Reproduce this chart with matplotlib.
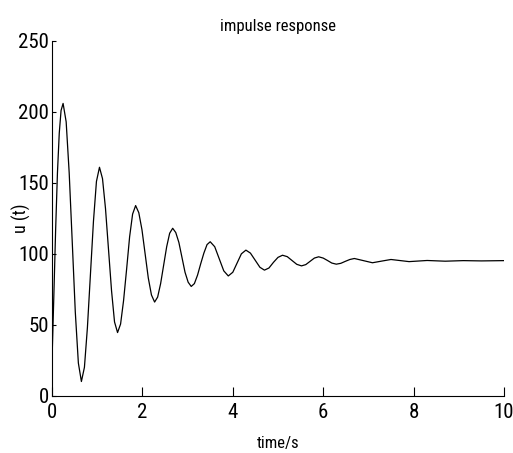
import matplotlib
matplotlib.use("Agg")
import matplotlib.pyplot as plt

# values (time in s, response u(t))
t = [0, 0.04, 0.08, 0.12, 0.16, 0.20, 0.245,
     0.313, 0.38, 0.448, 0.515, 0.583, 0.65,
     0.717, 0.783, 0.85, 0.917, 0.983, 1.05,
     1.117, 1.183, 1.25, 1.317, 1.383, 1.45,
     1.517, 1.583, 1.65, 1.717, 1.783, 1.85,
     1.92, 1.99, 2.06, 2.13, 2.20, 2.27,
     2.337, 2.403, 2.47, 2.537, 2.603, 2.67,
     2.738, 2.807, 2.875, 2.943, 3.012, 3.08,
     3.15, 3.22, 3.29, 3.36, 3.43, 3.50,
     3.60, 3.70, 3.80, 3.90,
     4.00, 4.095, 4.19, 4.29,
     4.39, 4.495, 4.60, 4.70,
     4.80, 4.90, 5.00, 5.10,
     5.205, 5.31, 5.415, 5.52,
     5.615, 5.71, 5.805, 5.90,
     6.00, 6.095, 6.19, 6.29,
     6.39, 6.49, 6.59, 6.69,
     6.89, 7.09, 7.30, 7.50,
     7.90, 8.30, 8.70, 9.10, 9.50, 10.0]
u = [25, 70, 117, 157, 185, 201, 206,
     193, 157, 108, 59, 23, 10,
     20, 48, 85.5, 123, 151, 161,
     153, 132, 103, 74, 52, 44.5,
     50.5, 67, 89, 112, 128, 134,
     129, 117, 100, 83, 71, 66,
     69.5, 79, 92, 105, 114.5, 118,
     115, 108, 97.5, 87, 80, 77,
     79, 85, 93, 100.5, 106.5, 108.5,
     105, 96.5, 88, 84.4,
     87, 93.5, 100, 102.6,
     100.5, 95.5, 90.5, 88.5,
     90, 94, 97.5, 99,
     98, 95.3, 92.6, 91.5,
     92.4, 94.7, 97, 97.9,
     97, 95.3, 93.5, 92.7,
     93.3, 94.7, 96, 96.7,
     95.2, 93.7, 94.9, 96,
     94.5, 95.3, 94.8, 95.2, 95, 95.2]

xticks = [0, 2, 4, 6, 8, 10]
yticks = [0, 50, 100, 150, 200, 250]

# narrow sans, like the squeezed Helvetica of the original
plt.rcParams['font.family'] = ['Roboto Condensed', 'Liberation Sans Narrow', 'Liberation Sans', 'DejaVu Sans']
plt.rcParams['font.stretch'] = 'condensed'

fig = plt.figure(figsize=(5.13, 4.53), dpi=100)
ax = fig.add_axes([0.1014, 0.1265, 0.881, 0.783])

ax.plot(t, u, color='black', linewidth=0.9)

ax.set_xlim(0, 10)
ax.set_ylim(0, 250)
ax.set_xticks(xticks)
ax.set_yticks(yticks)
ax.tick_params(axis='x', direction='in', length=6.5, width=0.8, labelsize=15, pad=5)
ax.tick_params(axis='y', direction='in', length=3.2, width=0.8, labelsize=15, pad=2)

for side in ['top', 'right']:
    ax.spines[side].set_visible(False)
for side in ['left', 'bottom']:
    ax.spines[side].set_linewidth(0.8)

ax.set_title("impulse response", fontsize=12, pad=7)
ax.set_xlabel("time/s", fontsize=12)
ax.set_ylabel("u (t)", fontsize=13)
ax.xaxis.set_label_coords(0.5, -0.115)
ax.yaxis.set_label_coords(-0.046, 0.5)

fig.savefig("out.png", dpi=100)
